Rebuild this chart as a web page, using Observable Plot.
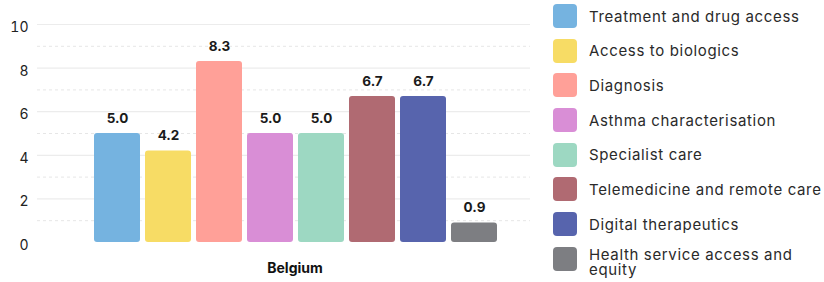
<!DOCTYPE html>
<html>
<head>
<meta charset="utf-8">
<script src="https://cdn.jsdelivr.net/npm/d3@7"></script>
<script src="https://cdn.jsdelivr.net/npm/@observablehq/plot@0.6"></script>
<style>
  html, body { margin: 0; padding: 0; background: #fff; }
  #wrap { position: relative; width: 824px; height: 282px; font-family: Inter, "DejaVu Sans", sans-serif; }
  #chart { position: absolute; left: 0; top: 0; }
  #legend { position: absolute; left: 553px; top: 4px; width: 271px; }
  .item { display: flex; align-items: flex-start; height: 34.7px; }
  .sw { width: 24px; height: 24px; border-radius: 4px; flex: none; }
  .lab { margin-left: 12px; font-size: 15px; line-height: 16px; letter-spacing: 0.65px; color: #2a2a2a; padding-top: 4.5px; width: 236px; }
  .lab.wrap { padding-top: 0; line-height: 15px; }
</style>
</head>
<body>
<div id="wrap">
  <div id="chart"></div>
  <div id="legend"></div>
</div>
<script>
const group = "Belgium";
const categories = [
  "Treatment and drug access",
  "Access to biologics",
  "Diagnosis",
  "Asthma characterisation",
  "Specialist care",
  "Telemedicine and remote care",
  "Digital therapeutics",
  "Health service access and equity"
];
const values = [5.0, 4.2, 8.3, 5.0, 5.0, 6.7, 6.7, 0.9];
const colors = ["#75b3e0", "#f7dc65", "#ffa098", "#d98ed6", "#9dd8c2", "#b06a72", "#5764ad", "#7d7e82"];
const majorTicks = [0, 2, 4, 6, 8, 10];
const minorTicks = [1, 3, 5, 7, 9];

const data = categories.map((c, i) => ({ category: c, value: values[i], group }));

const chart = Plot.plot({
  width: 553,
  height: 282,
  marginLeft: 37,
  marginRight: 23,
  marginTop: 24,
  marginBottom: 40,
  style: { fontFamily: "Inter, 'DejaVu Sans', sans-serif", background: "transparent" },
  x: { domain: categories, range: [92, 498], paddingInner: 0.1056, paddingOuter: 0, axis: null },
  y: { domain: [0, 10], axis: null },
  color: { domain: categories, range: colors },
  marks: [
    Plot.ruleY(minorTicks, { stroke: "#e6e6e6", strokeDasharray: "3,3", strokeWidth: 1 }),
    Plot.ruleY(majorTicks.filter(d => d > 0), { stroke: "#ececec", strokeWidth: 1.2 }),
    Plot.ruleY([0], { stroke: "#ececec", strokeWidth: 1.2, x1: 37, x2: 553 }),
    Plot.axisY({ ticks: majorTicks, tickSize: 0, tickPadding: 9, dy: 3, fontSize: 14, color: "#222", label: null, tickFormat: d => String(d) }),
    Plot.barY(data, { x: "category", y: "value", fill: "category", rx: 3 }),
    Plot.text(data, { x: "category", y: "value", text: d => d.value.toFixed(1), dy: -15, fontSize: 13.5, fontWeight: "bold", fill: "#1a1a1a", style: { letterSpacing: "0.4px" } }),
    Plot.text([group], { frameAnchor: "bottom", text: d => d, dx: 11, dy: 30, fontSize: 14, fontWeight: "bold", fill: "#111", style: { letterSpacing: "0.5px" } })
  ]
});
document.getElementById("chart").appendChild(chart);

const legend = document.getElementById("legend");
categories.forEach((c, i) => {
  const item = document.createElement("div");
  item.className = "item";
  const sw = document.createElement("div");
  sw.className = "sw";
  sw.style.background = colors[i];
  const lab = document.createElement("div");
  lab.className = "lab" + (i === categories.length - 1 ? " wrap" : "");
  lab.textContent = c;
  item.appendChild(sw);
  item.appendChild(lab);
  legend.appendChild(item);
});
</script>
</body>
</html>
